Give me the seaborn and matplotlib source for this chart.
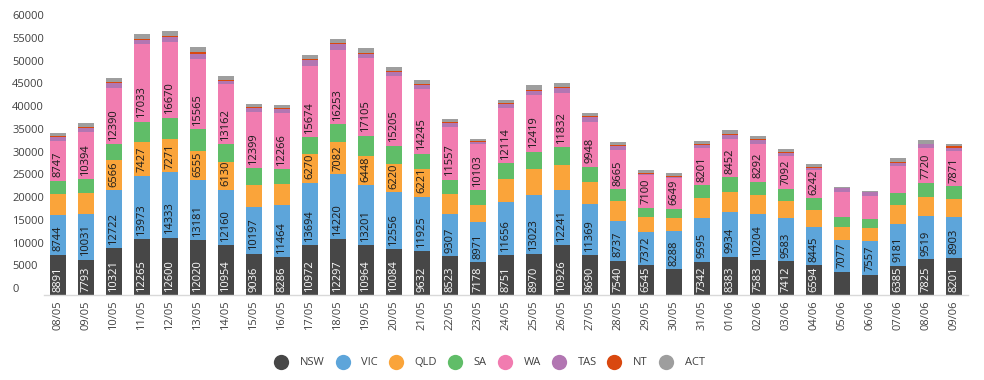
# Imports
import numpy as np
import pandas as pd
import matplotlib
matplotlib.use("Agg")
import matplotlib.pyplot as plt
from matplotlib.lines import Line2D
import seaborn as sns

# Data
dates = ["08/05", "09/05", "10/05", "11/05", "12/05", "13/05", "14/05", "15/05",
         "16/05", "17/05", "18/05", "19/05", "20/05", "21/05", "22/05", "23/05",
         "24/05", "25/05", "26/05", "27/05", "28/05", "29/05", "30/05", "31/05",
         "01/06", "02/06", "03/06", "04/06", "05/06", "06/06", "07/06", "08/06",
         "09/06"]

nsw = [8891, 7793, 10321, 12265, 12600, 12020, 10954, 9036, 8286, 10972, 12297,
       10964, 10084, 9632, 8523, 7178, 8751, 8970, 10926, 8690, 7540, 6545, 5670,
       7342, 8383, 7583, 7412, 6594, 5090, 4420, 6385, 7825, 8201]
vic = [8744, 10031, 12722, 13973, 14333, 13181, 12160, 10197, 11464, 13694, 14220,
       13201, 12556, 11925, 9307, 8971, 11656, 13023, 12241, 11369, 8737, 7372, 8288,
       9595, 9934, 10204, 9583, 8445, 7077, 7557, 9181, 9519, 8903]
qld = [4640, 4640, 6566, 7427, 7271, 6555, 6130, 4860, 4720, 6270, 7082, 6448, 6220,
       6221, 4420, 3540, 5010, 5600, 5300, 4860, 4420, 3170, 2870, 4420, 4420, 4200,
       3760, 3610, 2800, 2650, 4270, 4270, 3900]
sa = [2880, 3020, 3540, 4420, 4790, 4640, 3900, 3760, 3170, 3760, 3980, 4420, 3980,
      3320, 3100, 3320, 3540, 3900, 4050, 3240, 2580, 2140, 2140, 2730, 3100, 2950,
      2650, 2580, 2210, 2140, 2650, 3020, 2870]
wa = [8747, 10394, 12390, 17033, 16670, 15565, 13162, 12399, 12266, 15674, 16253,
      17105, 15205, 14245, 11557, 10103, 12114, 12419, 11832, 9948, 8665, 7100, 6649,
      8201, 8452, 8292, 7092, 6242, 5380, 4940, 5850, 7720, 7871]
tas = [880, 880, 1030, 960, 1030, 1100, 740, 880, 960, 1180, 1250, 810, 960, 740, 810,
       520, 880, 880, 1100, 960, 880, 300, 370, 660, 960, 880, 740, 520, 880, 880, 660,
       740, 660]
nt = [220, 220, 300, 300, 300, 350, 300, 250, 300, 300, 300, 300, 300, 250, 250, 250,
      250, 300, 250, 250, 100, 200, 200, 250, 200, 200, 250, 200, 50, 50, 200, 200, 250]
act = [700, 740, 810, 1100, 1030, 1100, 885, 590, 590, 960, 960, 1100, 885, 885, 740,
       370, 740, 960, 810, 660, 810, 590, 520, 740, 740, 740, 520, 590, 200, 200, 810,
       740, 520]

states = ["NSW", "VIC", "QLD", "SA", "WA", "TAS", "NT", "ACT"]
series = [nsw, vic, qld, sa, wa, tas, nt, act]
colors = ["#474747", "#5da5da", "#faa43a", "#60bd68", "#f17cb0", "#b276b2", "#d9480f", "#9e9e9e"]
palette = dict(zip(states, colors))
label_min = 6000  # smaller segments carry no data label

# Long-format table for seaborn
df = pd.DataFrame({
    "idx": np.tile(np.arange(len(dates)), len(states)),
    "state": np.repeat(states, len(dates)),
    "cases": np.concatenate(series),
})

sns.set_theme(style="white")
plt.rcParams["font.family"] = ["Open Sans", "DejaVu Sans"]

fig = plt.figure(figsize=(9.84, 3.8), dpi=100)
ax = fig.add_axes([0.0447, 0.2237, 0.939, 0.7183])

# first hue level is drawn on top, so reverse the order to keep NSW at the base
sns.histplot(data=df, x="idx", weights="cases", hue="state", hue_order=states[::-1],
             multiple="stack", discrete=True, shrink=0.6, palette=palette,
             alpha=1, linewidth=0, legend=False, ax=ax)

# Data labels, placed at the base of each segment
bottom = np.zeros(len(dates))
for name, vals in zip(states, series):
    vals = np.array(vals)
    for i, v in enumerate(vals):
        if v >= label_min:
            ax.annotate(str(v), (i, bottom[i]), xytext=(0, 2.5), textcoords="offset points",
                        rotation=90, ha="center", va="bottom", fontsize=8,
                        color="white" if name == "NSW" else "#1a1a1a")
    bottom += vals

# Axes styling
ax.set_xlim(-0.5, len(dates) - 0.5)
ax.set_ylim(0, 60000)
ax.set_xticks(range(len(dates)))
ax.set_xticklabels(dates, rotation=90, fontsize=8, color="#404040")
ax.set_yticks(range(0, 60001, 5000))
# y labels are left aligned and sit a little above their value
ax.set_yticklabels([str(t) for t in range(0, 60001, 5000)], fontsize=8, color="#404040",
                   ha="left", va="bottom")
ax.tick_params(axis="y", length=0, pad=23)
ax.tick_params(axis="x", length=0, pad=4)
ax.set_xlabel("")
ax.set_ylabel("")
for side in ["top", "right", "left"]:
    ax.spines[side].set_visible(False)
ax.spines["bottom"].set_color("#d9d9d9")
ax.spines["bottom"].set_linewidth(1)

# Legend
handles = [Line2D([], [], marker="o", linestyle="", markersize=11,
                  markerfacecolor=c, markeredgewidth=0) for c in colors]
fig.legend(handles, states, loc="center", bbox_to_anchor=(0.498, 0.045), ncol=8,
           frameon=False, fontsize=8, handlelength=1.0, handletextpad=1.2,
           columnspacing=1.1, labelcolor="#404040")

fig.savefig("out.png", dpi=100)
